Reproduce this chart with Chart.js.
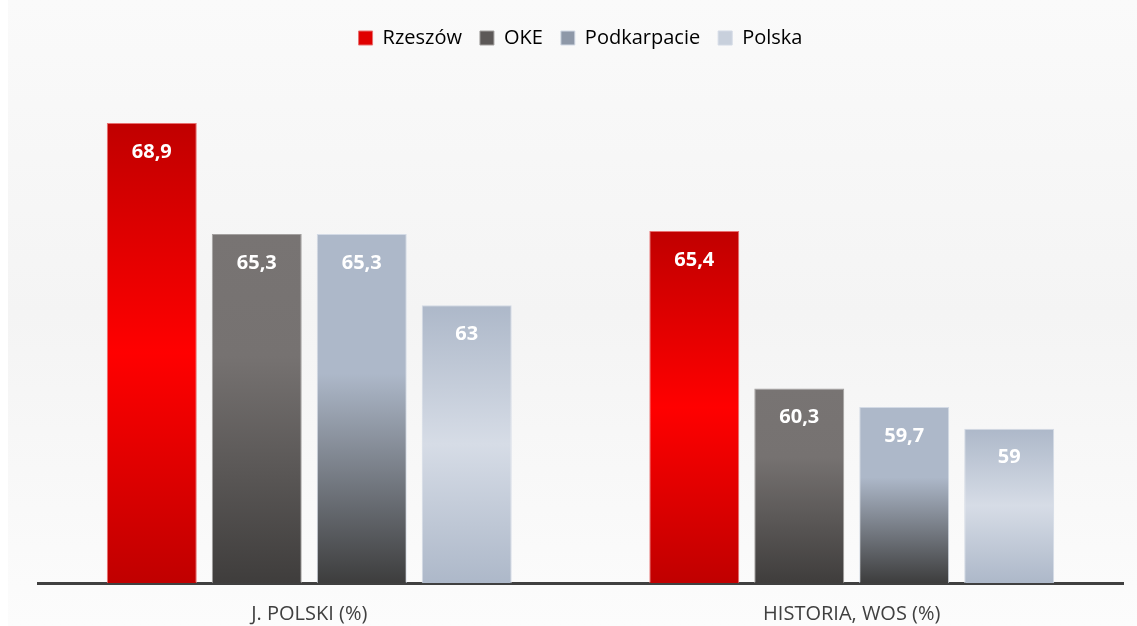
<!DOCTYPE html>
<html>
<head>
<meta charset="utf-8">
<script src="https://cdn.jsdelivr.net/npm/chart.js@4.4.1/dist/chart.umd.min.js"></script>
<style>
  html, body { margin: 0; padding: 0; background: #fff; }
  #wrap {
    position: absolute; left: 8px; top: 0; width: 1129px; height: 626px;
    background: linear-gradient(#fafafa 0%, #f4f4f4 50%, #fcfcfc 100%);
  }
  #box { position: absolute; left: 0; top: 0; width: 1137px; height: 626px; }
</style>
</head>
<body>
<div id="wrap"></div>
<div id="box"><canvas id="chart" width="1137" height="626"></canvas></div>
<script>
// Data
const categories = ['J. POLSKI (%)', 'HISTORIA, WOS (%)'];
const seriesNames = ['Rzeszów', 'OKE', 'Podkarpacie', 'Polska'];
const rzeszow = [68.9, 65.4];
const oke = [65.3, 60.3];
const podkarpacie = [65.3, 59.7];
const polska = [63, 59];

// gradient stops for each series: [offset, colour] from bar top to bar bottom
const gradStops = [
    [[0, '#c00000'], [0.5, '#ff0000'], [1, '#c00000']],
    [[0, '#787473'], [0.35, '#767271'], [1, '#3f3d3c']],
    [[0, '#adb8c9'], [0.4, '#adb8c9'], [1, '#3d3d3d']],
    [[0, '#adb8c9'], [0.5, '#d6dce6'], [1, '#adb8c9']]
];
const borderColors = ['#e87070', '#a3a09f', '#d3dae5', '#d3dae5'];
const legendColors = ['#e00000', '#5c5857', '#8e98a8', '#c8d0dc'];

function barGradient(i) {
    return function (ctx) {
        const chart = ctx.chart;
        const area = chart.chartArea;
        if (!area || ctx.type !== 'data') return legendColors[i];
        const top = chart.scales.y.getPixelForValue(ctx.raw);
        const g = chart.ctx.createLinearGradient(0, top, 0, area.bottom);
        gradStops[i].forEach(s => g.addColorStop(s[0], s[1]));
        return g;
    };
}

const valueLabels = {
    id: 'valueLabels',
    afterDatasetsDraw(chart) {
        const c = chart.ctx;
        c.save();
        c.fillStyle = '#ffffff';
        c.font = 'bold 20px "Open Sans"';
        c.textAlign = 'center';
        c.textBaseline = 'middle';
        chart.data.datasets.forEach((ds, i) => {
            chart.getDatasetMeta(i).data.forEach((bar, j) => {
                c.fillText(String(ds.data[j]).replace('.', ','), bar.x, bar.y + 29);
            });
        });
        c.restore();
    }
};

// extra space under the legend
const legendGap = {
    id: 'legendGap',
    beforeInit(chart) {
        const fit = chart.legend.fit;
        chart.legend.fit = function () {
            fit.bind(chart.legend)();
            this.height += 31;
        };
    }
};

const allSeries = [rzeszow, oke, podkarpacie, polska];

new Chart(document.getElementById('chart'), {
    type: 'bar',
    data: {
        labels: categories,
        datasets: allSeries.map((d, i) => ({
            label: seriesNames[i],
            data: d,
            backgroundColor: barGradient(i),
            borderColor: borderColors[i],
            borderWidth: 1,
            borderSkipped: 'bottom',
            categoryPercentage: 0.774,
            barPercentage: 0.857
        }))
    },
    options: {
        responsive: false,
        animation: false,
        layout: { padding: { left: 38, right: 14, top: 10, bottom: 0 } },
        plugins: {
            legend: {
                position: 'top',
                labels: {
                    font: { family: 'Open Sans', size: 20 },
                    color: '#404040',
                    boxWidth: 14,
                    boxHeight: 14,
                    padding: 18,
                    generateLabels(chart) {
                        return seriesNames.map((n, i) => ({
                            text: n,
                            fillStyle: legendColors[i],
                            strokeStyle: borderColors[i],
                            lineWidth: 1,
                            datasetIndex: i
                        }));
                    }
                }
            },
            tooltip: { enabled: false }
        },
        scales: {
            x: {
                grid: { display: false, drawTicks: false },
                border: { display: true, color: '#404040', width: 3 },
                ticks: { color: '#404040', font: { family: 'Open Sans', size: 20 }, padding: 19 },
                afterFit(scale) { scale.height = 43; }
            },
            y: {
                display: false,
                min: 54,
                max: 70
            }
        }
    },
    plugins: [legendGap, valueLabels]
});
</script>
</body>
</html>
